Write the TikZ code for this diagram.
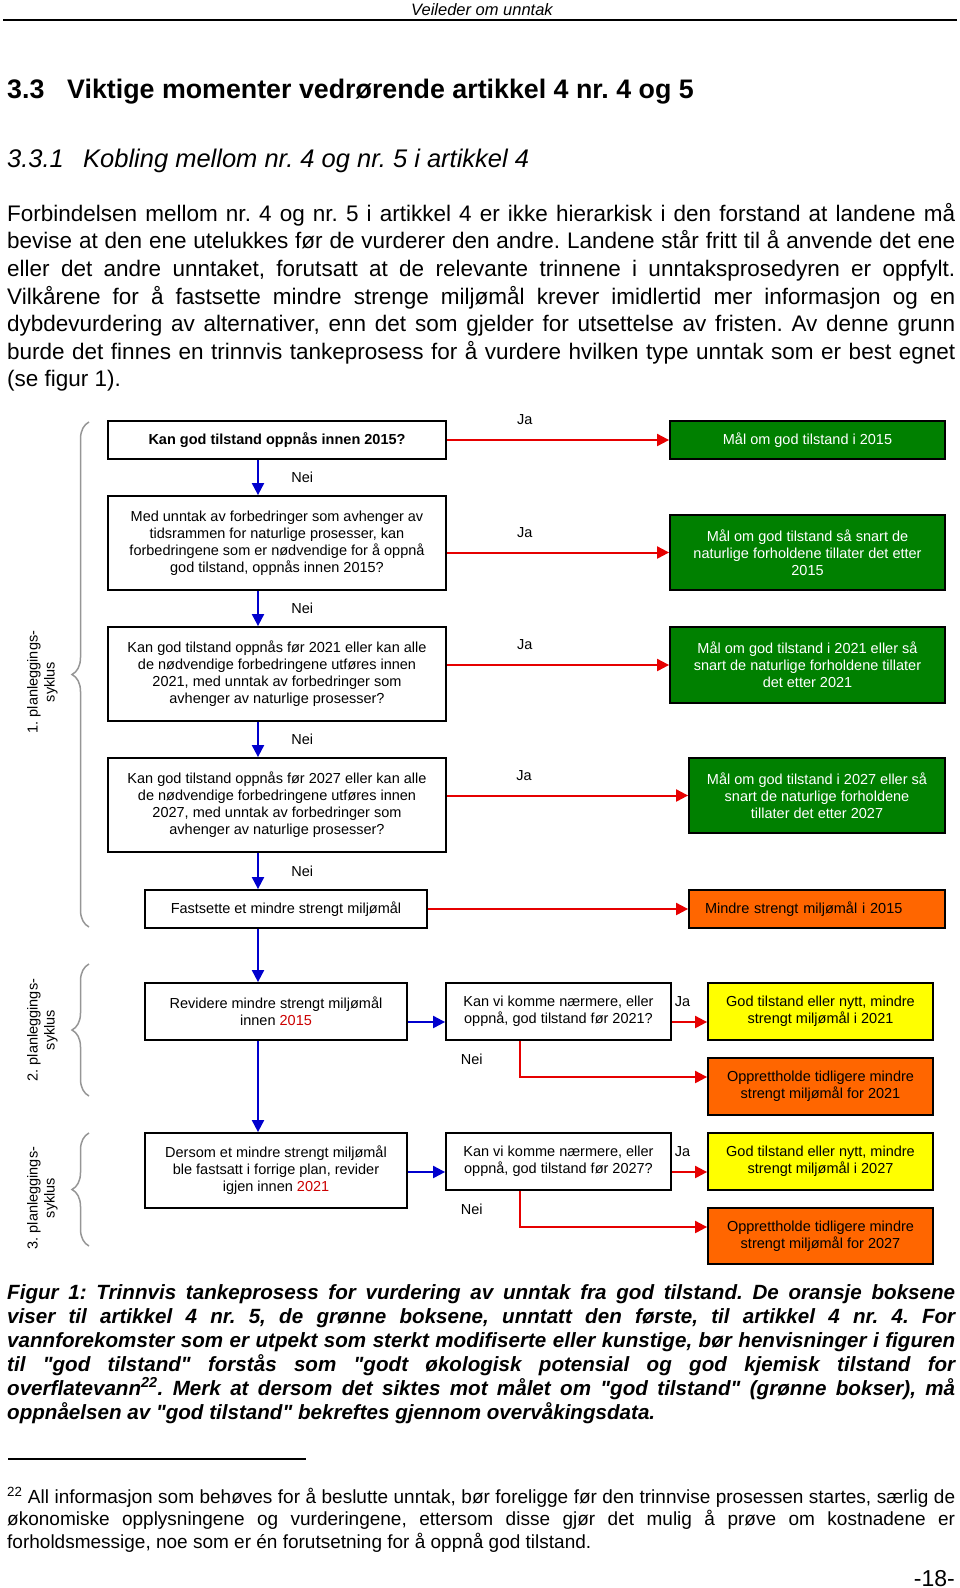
\documentclass[tikz,border=0pt]{standalone}
\usepackage{fontspec}
\setmainfont{Liberation Sans}[Ligatures=TeXOff]
\usetikzlibrary{arrows.meta}
\usetikzlibrary{decorations.pathreplacing}
\definecolor{maalgreen}{RGB}{0,128,0}
\definecolor{mindreorange}{RGB}{255,102,0}
\definecolor{godyellow}{RGB}{255,255,0}
\definecolor{jared}{RGB}{230,0,0}
\definecolor{neiblue}{RGB}{0,0,205}
\definecolor{aarred}{RGB}{204,0,0}
\definecolor{bracegray}{RGB}{150,150,150}
\newcommand{\boxfont}{\fontsize{14.5}{17}\selectfont}
\newcommand{\bodyfont}{\fontsize{22.5}{27.6}\selectfont}
\newcommand{\figfont}{\fontsize{20.6}{24}\selectfont\bfseries\itshape}
\newcommand{\notefont}{\fontsize{19}{22.5}\selectfont}
\newcommand{\aar}[1]{\textcolor{aarred}{#1}}
\tikzset{sporsmal/.style={ % white question boxes
draw,
line width=1.8pt,
fill=white,
inner sep=0pt,
align=center,
font=\boxfont},
maal/.style={ % green goal boxes
sporsmal,
fill=maalgreen,
text=white},
mindre/.style={ % orange boxes
sporsmal,
fill=mindreorange},
nytt/.style={ % yellow boxes
sporsmal,
fill=godyellow},
ja/.style={ % red arrows for Ja
draw=jared,
line width=2pt,
-{Triangle[length=12pt, width=12pt]}},
nei/.style={ % blue arrows for Nei
draw=neiblue,
line width=2pt,
-{Triangle[length=12pt, width=12pt]}},
svar/.style={font=\boxfont}, % Ja / Nei labels
syklus/.style={ % grey braces on the left
draw=bracegray,
line width=1.5pt,
decorate,
decoration={brace, amplitude=17pt}},
syklustekst/.style={rotate=90, align=center, font=\boxfont},
tekst/.style={inner sep=0pt, align=justify, text width=948pt}}

\begin{document}
\frenchspacing
\begin{tikzpicture}[x=1pt, y=-1pt]
\useasboundingbox (0,0) rectangle (960,1588);
% page text
\node[anchor=base, font=\fontsize{16.5}{19}\selectfont\itshape] (topptekst) at (482,15) {Veileder om unntak};
\draw[line width=1.2pt] (3,20) -- (957,20);
\node[anchor=base west, inner sep=0pt, font=\fontsize{26.8}{31}\selectfont\bfseries] (overskrift) at (7,98) {\makebox[60pt][l]{3.3}Viktige momenter vedrørende artikkel 4 nr. 4 og 5};
\node[anchor=base west, inner sep=0pt, font=\fontsize{25.5}{29}\selectfont\itshape] (underoverskrift) at (7,167) {\makebox[76pt][l]{3.3.1}Kobling mellom nr. 4 og nr. 5 i artikkel 4};
\node[tekst, anchor=north west, font=\bodyfont] (avsnitt) at (7,200) {\noindent\rule{0pt}{21pt}Forbindelsen mellom nr. 4 og nr. 5 i artikkel 4 er ikke hierarkisk i den forstand at landene må\linebreak
bevise at den ene utelukkes før de vurderer den andre. Landene står fritt til å anvende det ene\linebreak
eller det andre unntaket, forutsatt at de relevante trinnene i unntaksprosedyren er oppfylt.\linebreak
Vilkårene for å fastsette mindre strenge miljømål krever imidlertid mer informasjon og en\linebreak
dybdevurdering av alternativer, enn det som gjelder for utsettelse av fristen. Av denne grunn\linebreak
burde det finnes en trinnvis tankeprosess for å vurdere hvilken type unntak som er best egnet\linebreak
(se figur 1).};

% first cycle
\node[sporsmal, font=\boxfont\bfseries, minimum width=338pt, minimum height=38pt] (kan2015) at (277,440) {Kan god tilstand oppnås innen 2015?};
\node[maal, minimum width=275pt, minimum height=38pt] (maal2015) at (807.5,440) {Mål om god tilstand i 2015};
\node[sporsmal, minimum width=338pt, minimum height=94pt] (unntak2015) at (277,543) {Med unntak av forbedringer som avhenger av\\tidsrammen for naturlige prosesser, kan\\forbedringene som er nødvendige for å oppnå\\god tilstand, oppnås innen 2015?};
\node[maal, minimum width=275pt, minimum height=75pt] (maalsnart) at (807.5,552.5) {Mål om god tilstand så snart de\\naturlige forholdene tillater det etter\\2015};
\node[sporsmal, minimum width=338pt, minimum height=94pt] (kan2021) at (277,674) {Kan god tilstand oppnås før 2021 eller kan alle\\de nødvendige forbedringene utføres innen\\2021, med unntak av forbedringer som\\avhenger av naturlige prosesser?};
\node[maal, minimum width=275pt, minimum height=76pt] (maal2021) at (807.5,665) {Mål om god tilstand i 2021 eller så\\snart de naturlige forholdene tillater\\det etter 2021};
\node[sporsmal, minimum width=338pt, minimum height=94pt] (kan2027) at (277,805) {Kan god tilstand oppnås før 2027 eller kan alle\\de nødvendige forbedringene utføres innen\\2027, med unntak av forbedringer som\\avhenger av naturlige prosesser?};
\node[maal, minimum width=256pt, minimum height=75pt] (maal2027) at (817,795.5) {Mål om god tilstand i 2027 eller så\\snart de naturlige forholdene\\tillater det etter 2027};
\node[sporsmal, minimum width=282pt, minimum height=38pt] (fastsette) at (286,909) {Fastsette et mindre strengt miljømål};
\node[mindre, text width=224pt, inner xsep=16pt, align=left, minimum height=38pt] (mindre2015) at (817,909) {Mindre strengt miljømål i 2015};

% second and third cycle
\node[sporsmal, minimum width=262pt, minimum height=57pt] (revidere) at (276,1011.5) {Revidere mindre strengt miljømål\\innen \aar{2015}};
\node[sporsmal, minimum width=225pt, minimum height=57pt] (naermere2021) at (558.5,1011.5) {Kan vi komme nærmere, eller\\oppnå, god tilstand før 2021?};
\node[nytt, minimum width=225pt, minimum height=57pt] (god2021) at (820.5,1011.5) {God tilstand eller nytt, mindre\\strengt miljømål i 2021};
\node[mindre, minimum width=225pt, minimum height=57pt] (opprett2021) at (820.5,1086.5) {Opprettholde tidligere mindre\\strengt miljømål for 2021};
\node[sporsmal, minimum width=262pt, minimum height=75pt] (dersom) at (276,1170.5) {Dersom et mindre strengt miljømål\\ble fastsatt i forrige plan, revider\\igjen innen \aar{2021}};
\node[sporsmal, minimum width=225pt, minimum height=57pt] (naermere2027) at (558.5,1161.5) {Kan vi komme nærmere, eller\\oppnå, god tilstand før 2027?};
\node[nytt, minimum width=225pt, minimum height=57pt] (god2027) at (820.5,1161.5) {God tilstand eller nytt, mindre\\strengt miljømål i 2027};
\node[mindre, minimum width=225pt, minimum height=56pt] (opprett2027) at (820.5,1236) {Opprettholde tidligere mindre\\strengt miljømål for 2027};

\coordinate (spine) at (258,0);
\coordinate (row2021) at (0,1022);
\coordinate (elbow2021) at (520,1077);
\coordinate (row2027) at (0,1172);
\coordinate (elbow2027) at (520,1227);

% Ja arrows
\draw (kan2015) edge[ja] node[svar, pos=0.35, above=11pt]{Ja} (maal2015)
(unntak2015.east |- maalsnart.west) edge[ja] node[svar, pos=0.35, above=11pt]{Ja} (maalsnart.west)
(kan2021.east |- maal2021.west) edge[ja] node[svar, pos=0.35, above=11pt]{Ja} (maal2021.west)
(kan2027.east |- maal2027.west) edge[ja] node[svar, pos=0.32, above=11pt]{Ja} (maal2027.west)
(fastsette) edge[ja] (mindre2015)
(naermere2021.east |- row2021) edge[ja] node[svar, pos=0.3, above=11pt]{Ja} (god2021.west |- row2021)
(naermere2027.east |- row2027) edge[ja] node[svar, pos=0.3, above=11pt]{Ja} (god2027.west |- row2027);
\draw[ja] (naermere2021.south -| elbow2021) |- node[svar, pos=0.25, left=33pt]{Nei} (opprett2021.west |- elbow2021);
\draw[ja] (naermere2027.south -| elbow2027) |- node[svar, pos=0.25, left=33pt]{Nei} (opprett2027.west |- elbow2027);

% Nei arrows
\draw (spine |- kan2015.south) edge[nei] node[svar, right=29pt]{Nei} (spine |- unntak2015.north)
(spine |- unntak2015.south) edge[nei] node[svar, right=29pt]{Nei} (spine |- kan2021.north)
(spine |- kan2021.south) edge[nei] node[svar, right=29pt]{Nei} (spine |- kan2027.north)
(spine |- kan2027.south) edge[nei] node[svar, right=29pt]{Nei} (spine |- fastsette.north)
(spine |- fastsette.south) edge[nei] (spine |- revidere.north)
(spine |- revidere.south) edge[nei] (spine |- dersom.north)
(revidere.east |- row2021) edge[nei] (naermere2021.west |- row2021)
(dersom.east |- row2027) edge[nei] (naermere2027.west |- row2027);

% planning cycles
\draw[syklus] (89,927) -- (89,422);
\draw[syklus] (89,1096) -- (89,964);
\draw[syklus] (89,1246) -- (89,1133);
\node[syklustekst] (syklus1) at (42.5,682) {1. planleggings-\\syklus};
\node[syklustekst] (syklus2) at (42.5,1030) {2. planleggings-\\syklus};
\node[syklustekst] (syklus3) at (42.5,1198) {3. planleggings-\\syklus};

% caption and footnote
\node[tekst, anchor=north west, font=\figfont] (figurtekst) at (7,1279) {\noindent\rule{0pt}{20pt}Figur 1: Trinnvis tankeprosess for vurdering av unntak fra god tilstand. De oransje boksene\linebreak
viser til artikkel 4 nr. 5, de grønne boksene, unntatt den første, til artikkel 4 nr. 4. For\linebreak
vannforekomster som er utpekt som sterkt modifiserte eller kunstige, bør henvisninger i figuren\linebreak
til "god tilstand" forstås som "godt økologisk potensial og god kjemisk tilstand for\linebreak
overflatevann\textsuperscript{22}. Merk at dersom det siktes mot målet om "god tilstand" (grønne bokser), må\linebreak
oppnåelsen av "god tilstand" bekreftes gjennom overvåkingsdata.};
\draw[line width=1.2pt] (8,1459) -- (306,1459);
\node[tekst, anchor=north west, font=\notefont] (fotnote) at (7,1485) {\noindent\rule{0pt}{18pt}\textsuperscript{22} All informasjon som behøves for å beslutte unntak, bør foreligge før den trinnvise prosessen startes, særlig de\linebreak
økonomiske opplysningene og vurderingene, ettersom disse gjør det mulig å prøve om kostnadene er\linebreak
forholdsmessige, noe som er én forutsetning for å oppnå god tilstand.};
\node[anchor=base east, inner sep=0pt, font=\fontsize{23}{27}\selectfont] (sidetall) at (955,1586) {-18-};
\end{tikzpicture}
\end{document}
